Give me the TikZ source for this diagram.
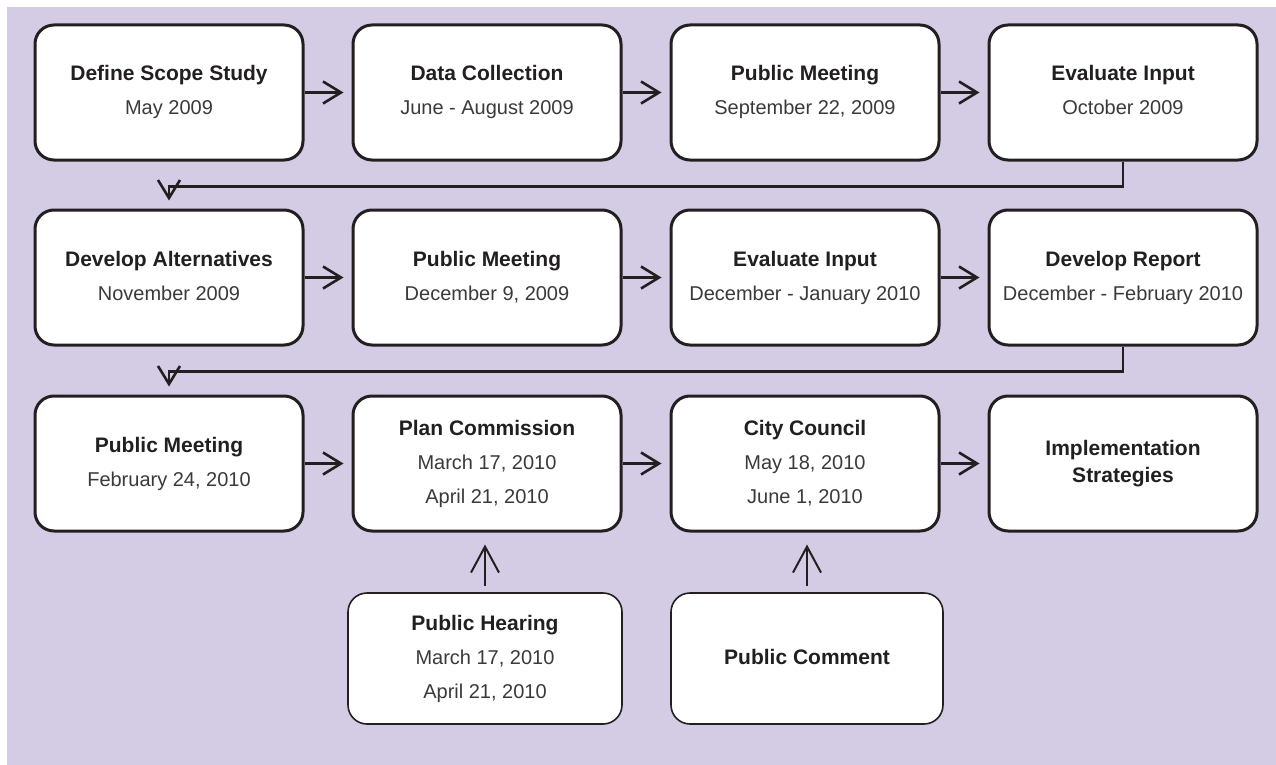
\documentclass[tikz,border=0pt]{standalone}
\usepackage{fontspec}
\setmainfont{Liberation Sans}
\usetikzlibrary{arrows.meta}
\definecolor{lav}{HTML}{D4CCE5}
\definecolor{ink}{HTML}{231F20}
\definecolor{sub}{HTML}{3A3A3A}
\tikzset{
  stage/.style={draw=ink, line width=3pt, fill=white, rounded corners=19pt,
    minimum width=268pt, minimum height=135pt, inner sep=0pt, align=center,
    font=\fontsize{20}{34}\selectfont, text=sub},
  side/.style={stage, line width=1.6pt, minimum width=274pt, minimum height=131pt},
  flow/.style={draw=ink, line width=2.6pt, -{Straight Barb[length=18pt,width=22pt]},
    shorten >=8pt},
  feed/.style={draw=ink, line width=2pt, -{Straight Barb[length=26pt,width=28pt]},
    shorten >=12pt, shorten <=6pt},
}
% every text line carries the same strut so all boxes centre alike
\newcommand\lnstrut{\rule[-5pt]{0pt}{21pt}}
\newcommand\ttl[1]{{\lnstrut\bfseries\color{ink}\fontsize{21}{34}\selectfont #1}}
\newcommand\dd[1]{\lnstrut#1}
\begin{document}
\begin{tikzpicture}[x=1pt,y=-1pt]
  \useasboundingbox (0,0) rectangle (1276,765);
  \fill[white] (0,0) rectangle (1276,765);
  \fill[lav] (7,7) rectangle (1276,765);

  % first row
  \node[stage] (s1) at (169,92.5)  {\ttl{Define Scope Study}\\\dd{May 2009}};
  \node[stage] (s2) at (487,92.5)  {\ttl{Data Collection}\\\dd{June - August 2009}};
  \node[stage] (s3) at (805,92.5)  {\ttl{Public Meeting}\\\dd{September 22, 2009}};
  \node[stage] (s4) at (1123,92.5) {\ttl{Evaluate Input}\\\dd{October 2009}};

  % second row
  \node[stage] (s5) at (169,277.5)  {\ttl{Develop Alternatives}\\\dd{November 2009}};
  \node[stage] (s6) at (487,277.5)  {\ttl{Public Meeting}\\\dd{December 9, 2009}};
  \node[stage] (s7) at (805,277.5)  {\ttl{Evaluate Input}\\\dd{December - January 2010}};
  \node[stage] (s8) at (1123,277.5) {\ttl{Develop Report}\\\dd{December - February 2010}};

  % third row
  \node[stage] (s9)  at (169,463.5)  {\ttl{Public Meeting}\\\dd{February 24, 2010}};
  \node[stage] (s10) at (487,463.5)  {\ttl{Plan Commission}\\\dd{March 17, 2010}\\\dd{April 21, 2010}};
  \node[stage] (s11) at (805,463.5)  {\ttl{City Council}\\\dd{May 18, 2010}\\\dd{June 1, 2010}};
  \node[stage, font=\fontsize{21}{27}\selectfont] (s12) at (1123,463.5)
    {\ttl{Implementation}\\\ttl{Strategies}};

  % inputs feeding the approvals
  \node[side] (h1) at (485,658.5) {\ttl{Public Hearing}\\\dd{March 17, 2010}\\\dd{April 21, 2010}};
  \node[side, minimum width=272pt] (h2) at (807,658.5) {\ttl{Public Comment}};

  % connectors along the rows
  \draw[flow] (s1) -- (s2);
  \draw[flow] (s2) -- (s3);
  \draw[flow] (s3) -- (s4);
  \draw[flow] (s5) -- (s6);
  \draw[flow] (s6) -- (s7);
  \draw[flow] (s7) -- (s8);
  \draw[flow] (s9) -- (s10);
  \draw[flow] (s10) -- (s11);
  \draw[flow] (s11) -- (s12);

  % returns to the next row
  \draw[flow] (s4.south) -- ++(0,25) -| (s5.north);
  \draw[flow] (s8.south) -- ++(0,25) -| (s9.north);

  % inputs
  \draw[feed] (h1.north) -- (h1.north |- s10.south);
  \draw[feed] (h2.north) -- (h2.north |- s11.south);
\end{tikzpicture}
\end{document}
